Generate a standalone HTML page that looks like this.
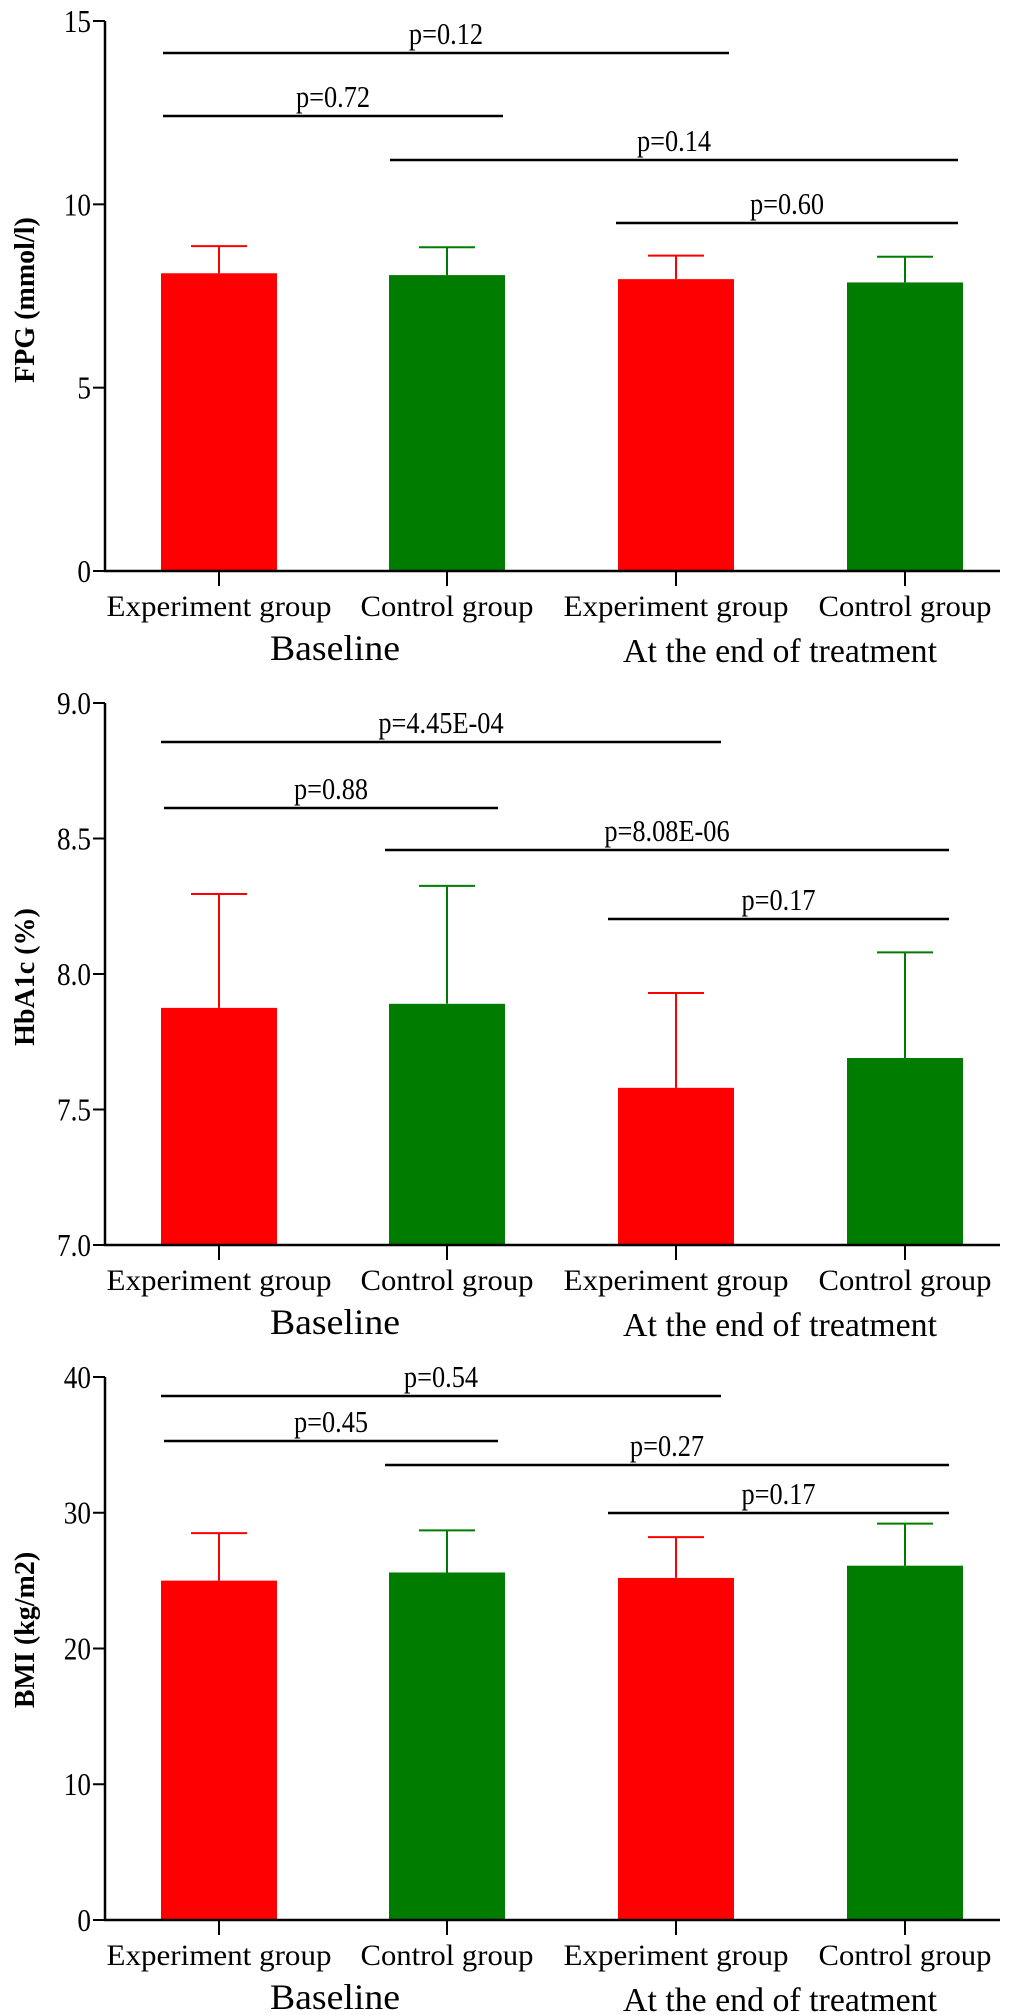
<!DOCTYPE html>
<html><head><meta charset="utf-8">
<style>
html,body{margin:0;padding:0;background:#fff;}
svg{display:block;}
text{font-family:"Liberation Serif",serif;fill:#000;}
</style></head>
<body>
<svg id="chart" width="1020" height="2015" viewBox="0 0 1020 2015" xmlns="http://www.w3.org/2000/svg"></svg>
<script>
const categories = ["Experiment group","Control group","Experiment group","Control group"];
const colors = ["#ff0000","#007d00","#ff0000","#007d00"];
const fpgMeans = [8.12, 8.07, 7.96, 7.87];
const fpgErr = [8.86, 8.83, 8.60, 8.57];
const fpgTicks = ["0","5","10","15"];
const hbaMeans = [7.875, 7.89, 7.58, 7.69];
const hbaErr = [8.295, 8.325, 7.93, 8.08];
const hbaTicks = ["7.0","7.5","8.0","8.5","9.0"];
const bmiMeans = [25.0, 25.6, 25.2, 26.1];
const bmiErr = [28.5, 28.7, 28.2, 29.2];
const bmiTicks = ["0","10","20","30","40"];
const fpgP = ["p=0.12","p=0.72","p=0.14","p=0.60"];
const hbaP = ["p=4.45E-04","p=0.88","p=8.08E-06","p=0.17"];
const bmiP = ["p=0.54","p=0.45","p=0.27","p=0.17"];

const NS="http://www.w3.org/2000/svg";
const svg=document.getElementById('chart');
function mk(tag,attrs,parent){const e=document.createElementNS(NS,tag);for(const k in attrs)e.setAttribute(k,attrs[k]);(parent||svg).appendChild(e);return e;}

const centers=[219,447,676,905];
const barW=116;
const axisX=105, axisRight=1000;

function panel(cfg){
  const g=mk('g',{});
  
  
  const y=v=>cfg.y0-(v-cfg.vmin)*(cfg.y0-cfg.y1)/(cfg.vmax-cfg.vmin);
  cfg.means.forEach((m,i)=>{
    const cx=centers[i];
    const r=mk('rect',{x:cx-barW/2,y:y(m),width:barW,height:cfg.y0-y(m),fill:colors[i]},g);
    
    
    const e=mk('path',{d:`M${cx},${y(m)}V${y(cfg.err[i])}M${cx-28},${y(cfg.err[i])}H${cx+28}`,stroke:colors[i],'stroke-width':2,fill:'none'},g);
    
    
  });
  const ax=mk('path',{d:`M${axisX},${y(cfg.vmax)}V${cfg.y0}H${axisRight}`,stroke:'#000','stroke-width':2.5,fill:'none'},g);
  
  
  cfg.ticks.forEach(t=>{
    const ty=y(parseFloat(t));
    mk('line',{x1:axisX-12,x2:axisX,y1:ty,y2:ty,stroke:'#000','stroke-width':2},g);
    const tx=mk('text',{x:axisX-14,y:ty+11,'font-size':32,'text-anchor':'end',transform:`translate(${axisX-14},0) scale(0.85,1) translate(${-(axisX-14)},0)`},g);
    tx.textContent=t;
    
    
  });
  categories.forEach((c,i)=>{
    mk('line',{x1:centers[i],x2:centers[i],y1:cfg.y0,y2:cfg.y0+15,stroke:'#000','stroke-width':2},g);
    const w = c.length>14?225:173;
    const t=mk('text',{x:centers[i],y:cfg.y0+45,'font-size':30,'text-anchor':'middle',textLength:w,lengthAdjust:'spacingAndGlyphs'},g);
    t.textContent=c;
    
    
  });
  const b=mk('text',{x:335,y:cfg.y0+89,'font-size':36,'text-anchor':'middle',textLength:130,lengthAdjust:'spacingAndGlyphs'},g);
  b.textContent='Baseline';
  
  
  const a=mk('text',{x:780,y:cfg.y0+91,'font-size':34,'text-anchor':'middle',textLength:314,lengthAdjust:'spacingAndGlyphs'},g);
  a.textContent='At the end of treatment';
  
  
  const yt=mk('text',{x:0,y:0,'font-size':28,'font-weight':'bold','text-anchor':'middle',transform:`translate(34,${cfg.titleY}) rotate(-90)`},g);
  yt.textContent=cfg.title;
  
  
  cfg.brackets.forEach((br,i)=>{
    const l=mk('line',{x1:br[0],x2:br[1],y1:br[2],y2:br[2],stroke:'#000','stroke-width':2.5},g);
    
    
    const cx=(br[0]+br[1])/2;
    const pt=mk('text',{x:cx,y:br[2]-9,'font-size':31,'text-anchor':'middle',transform:`translate(${cx},0) scale(0.85,1) translate(${-cx},0)`},g);
    pt.textContent=cfg.p[i];
    
    
  });
}

panel({name:'fpg-panel',key:'fpg',means:fpgMeans,err:fpgErr,ticks:fpgTicks,p:fpgP,vmin:0,vmax:15,y0:571,y1:21,title:'FPG (mmol/l)',titleY:300,
  brackets:[[163,729,53],[163,503,116],[390,958,160],[616,958,223]]});
panel({name:'hba1c-panel',key:'hba1c',means:hbaMeans,err:hbaErr,ticks:hbaTicks,p:hbaP,vmin:7,vmax:9,y0:1245,y1:703,title:'HbA1c (%)',titleY:977,
  brackets:[[161,721,742],[164,498,808],[385,949,850],[608,949,919]]});
panel({name:'bmi-panel',key:'bmi',means:bmiMeans,err:bmiErr,ticks:bmiTicks,p:bmiP,vmin:0,vmax:40,y0:1920,y1:1377,title:'BMI (kg/m2)',titleY:1630,
  brackets:[[161,721,1396],[164,498,1441],[385,949,1465],[608,949,1513]]});
</script>
</body></html>
